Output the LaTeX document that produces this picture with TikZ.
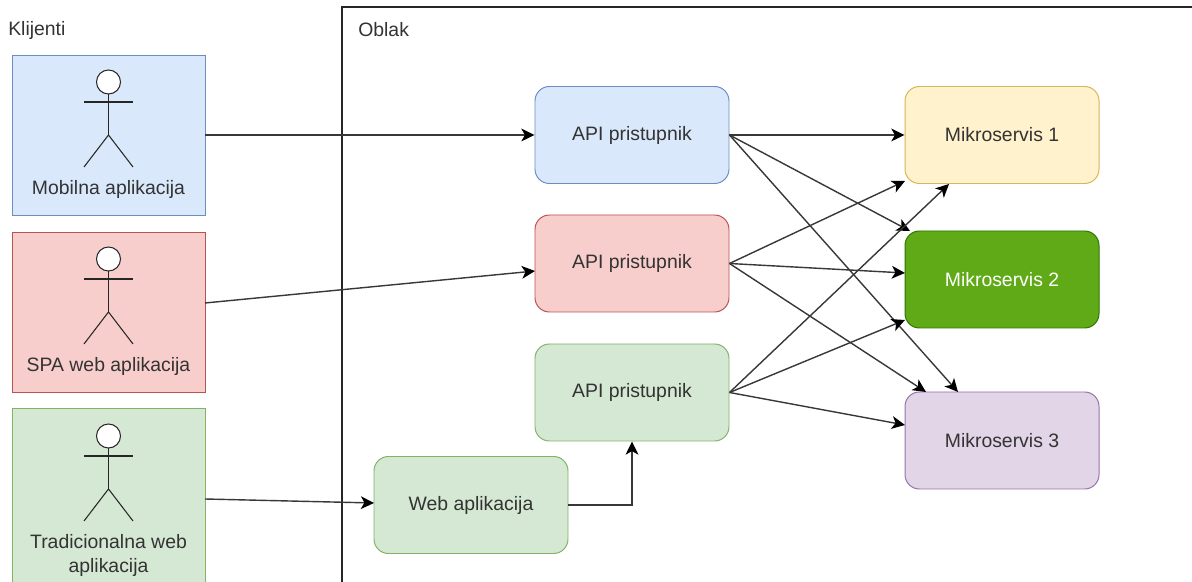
\documentclass[tikz,border=0pt]{standalone}
\usepackage{fontspec}
\setmainfont{Liberation Sans}
\usetikzlibrary{arrows.meta}
\definecolor{plavaF}{HTML}{DAE8FC}
\definecolor{plavaL}{HTML}{6C8EBF}
\definecolor{crvenaF}{HTML}{F8CECC}
\definecolor{crvenaL}{HTML}{B85450}
\definecolor{zelenaF}{HTML}{D5E8D4}
\definecolor{zelenaL}{HTML}{82B366}
\definecolor{zutaF}{HTML}{FFF2CC}
\definecolor{zutaL}{HTML}{D6B656}
\definecolor{tamnaF}{HTML}{60A917}
\definecolor{tamnaL}{HTML}{2D7600}
\definecolor{ljubF}{HTML}{E1D5E7}
\definecolor{ljubL}{HTML}{9673A6}
\definecolor{tekst}{HTML}{333333}
\tikzset{
  natpis/.style={font=\fontsize{13.8}{16.4}\selectfont,text=tekst,align=center,inner sep=0pt},
  klijent/.style={line width=0.7pt,minimum width=193*0.025cm,minimum height=160*0.025cm,inner sep=0pt},
  kutija/.style={natpis,rounded corners=0.36cm,line width=0.7pt,minimum width=194*0.025cm,minimum height=97*0.025cm},
  veza/.style={line width=1pt,draw=black!78,-{Stealth[length=0.33cm,width=0.32cm,inset=0.09cm,black]}},
  figura/.style={line width=0.75pt,draw=black!85}
}
\begin{document}
\begin{tikzpicture}[x=0.025cm,y=-0.025cm]
\useasboundingbox (0,0) rectangle (1192,582);
\clip (0,0) rectangle (1192,582);
  % oblak
  \draw[line width=1pt,draw=black!85] (342,600) -- (342,7) -- (1210,7);
  \node[natpis,anchor=west] (klijenti) at (8,30) {Klijenti};
  \node[natpis,anchor=west] (oblak) at (358,30) {Oblak};
  % klijenti
  \node[klijent,draw=plavaL,fill=plavaF] (mob) at (108.5,135) {};
  \node[klijent,draw=crvenaL,fill=crvenaF] (spa) at (108.5,312) {};
  \node[klijent,draw=zelenaL,fill=zelenaF,minimum height=190*0.025cm] (trad) at (108.5,503) {};
  \foreach \pomak in {0,177,354} {
    \draw[figura,fill=white] (108.5,82+\pomak) circle (12);
    \draw[figura] (108.5,94+\pomak) -- (108.5,135+\pomak);
    \draw[figura] (84,102+\pomak) -- (133,102+\pomak);
    \draw[figura] (84,167+\pomak) -- (108.5,135+\pomak) -- (133,167+\pomak);
  }
  \node[natpis] (mobtxt) at (108.5,189) {Mobilna aplikacija};
  \node[natpis] (spatxt) at (108.5,366) {SPA web aplikacija};
  \node[natpis] (tradtxt) at (108.5,555.5) {Tradicionalna web\\aplikacija};
  % pristupnici
  \node[kutija,draw=plavaL,fill=plavaF] (api1) at (632,135) {API pristupnik};
  \node[kutija,draw=crvenaL,fill=crvenaF] (api2) at (632,263.5) {API pristupnik};
  \node[kutija,draw=zelenaL,fill=zelenaF] (api3) at (632,392.5) {API pristupnik};
  \node[kutija,draw=zelenaL,fill=zelenaF] (web) at (471,505) {Web aplikacija};
  % mikroservisi
  \node[kutija,draw=zutaL,fill=zutaF] (ms1) at (1002,135) {Mikroservis 1};
  \node[kutija,draw=tamnaL,fill=tamnaF,text=white] (ms2) at (1002,279.5) {Mikroservis 2};
  \node[kutija,draw=ljubL,fill=ljubF] (ms3) at (1002,440.5) {Mikroservis 3};
  % krajevi veza
  \coordinate (spaizl) at (205,303);
  \coordinate (tradizl) at (205,499);
  \coordinate (api2ul) at (535,271);
  \coordinate (webul) at (374,503);
  \coordinate (ms1a) at (905,181);
  \coordinate (ms1b) at (949,184);
  \coordinate (ms2a) at (910,231);
  \coordinate (ms2b) at (905,273);
  \coordinate (ms2c) at (905,320);
  \coordinate (ms3a) at (958,392);
  \coordinate (ms3b) at (926,392);
  \coordinate (ms3c) at (905,425);
  % veze
  \draw[veza] (mob.east) -- (api1.west);
  \draw[veza] (spaizl) -- (api2ul);
  \draw[veza] (tradizl) -- (webul);
  \draw[veza] (web.east) -| (api3.south);
  \draw[veza] (api1.east) -- (ms1.west);
  \draw[veza] (api1.east) -- (ms2a);
  \draw[veza] (api1.east) -- (ms3a);
  \draw[veza] (api2.east) -- (ms1a);
  \draw[veza] (api2.east) -- (ms2b);
  \draw[veza] (api2.east) -- (ms3b);
  \draw[veza] (api3.east) -- (ms1b);
  \draw[veza] (api3.east) -- (ms2c);
  \draw[veza] (api3.east) -- (ms3c);
\end{tikzpicture}
\end{document}
